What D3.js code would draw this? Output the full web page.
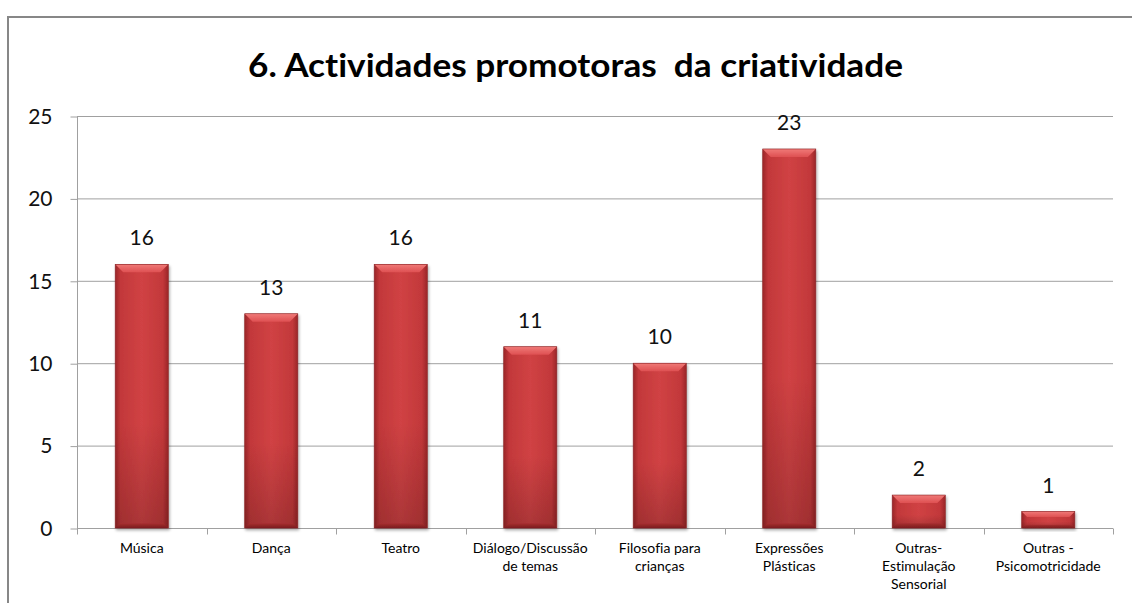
<!DOCTYPE html>
<html><head><meta charset="utf-8">
<script src="https://cdn.jsdelivr.net/npm/d3@7"></script>
<style>body{margin:0;background:#fff}svg{display:block}text,tspan{font-variant-ligatures:none;font-feature-settings:"liga" 0,"clig" 0,"dlig" 0,"calt" 0}</style>
</head><body>
<svg id="c" width="1132" height="603"></svg>
<script>
const categories = [["Música"],["Dança"],["Teatro"],["Diálogo/Discussão","de temas"],["Filosofia para","crianças"],["Expressões","Plásticas"],["Outras-","Estimulação","Sensorial"],["Outras -","Psicomotricidade"]];
const values = [16,13,16,11,10,23,2,1];
const yTicks = [0,5,10,15,20,25];
const title = "6. Actividades promotoras  da criatividade";

const svg = d3.select("#c");
const font = "Lato, 'Open Sans', sans-serif";
const L=77, R=1113, T=116, B=528;
const x = d3.scaleBand().domain(d3.range(values.length)).range([L,R]).paddingInner(0.59).paddingOuter(0.295);
const y = d3.scaleLinear().domain([0,25]).range([B,T]);

// border
svg.append("rect").attr("x",8).attr("y",17).attr("width",1200).attr("height",700)
  .attr("fill","none").attr("stroke","#878787").attr("stroke-width",2);

// title
svg.append("text").attr("x",575.5).attr("y",77).attr("text-anchor","middle")
  .attr("font-family",font).attr("font-weight","bold").attr("font-size",32)
  .attr("fill","#000").attr("textLength",655).attr("lengthAdjust","spacingAndGlyphs")
  .style("white-space","pre").style("font-variant-ligatures","none").text(title);

const defs = svg.append("defs");
const hg = defs.append("linearGradient").attr("id","hg").attr("x1","0").attr("x2","1").attr("y1","0").attr("y2","0");
[[0,"#9a2628"],[0.1,"#c2383a"],[0.5,"#d04244"],[0.9,"#c2383a"],[1,"#9a2628"]].forEach(s=>hg.append("stop").attr("offset",s[0]).attr("stop-color",s[1]));
const vg = defs.append("linearGradient").attr("id","vg").attr("x1","0").attr("x2","0").attr("y1","0").attr("y2","1");
[[0,"#000",0],[0.6,"#000",0],[1,"#000",0.18]].forEach(s=>vg.append("stop").attr("offset",s[0]).attr("stop-color",s[1]).attr("stop-opacity",s[2]));
const tg = defs.append("linearGradient").attr("id","tg").attr("x1","0").attr("x2","0").attr("y1","0").attr("y2","1");
[[0,"#f07a78"],[1,"#de5052"]].forEach(s=>tg.append("stop").attr("offset",s[0]).attr("stop-color",s[1]));
const bg = defs.append("linearGradient").attr("id","bg").attr("x1","0").attr("x2","0").attr("y1","0").attr("y2","1");
[[0,"#a82e30"],[1,"#7a1d1f"]].forEach(s=>bg.append("stop").attr("offset",s[0]).attr("stop-color",s[1]));
const sh = defs.append("filter").attr("id","sh").attr("x","-20%").attr("y","-20%").attr("width","140%").attr("height","140%");
sh.append("feGaussianBlur").attr("in","SourceAlpha").attr("stdDeviation",1.5);
sh.append("feOffset").attr("dx",1).attr("dy",1.5).attr("result","o");
sh.append("feComponentTransfer").append("feFuncA").attr("type","linear").attr("slope",0.35);
const m = sh.append("feMerge"); m.append("feMergeNode"); m.append("feMergeNode").attr("in","SourceGraphic");

// gridlines
const gridY = yTicks.filter(t=>t>0);
svg.append("g").selectAll("line").data(gridY).join("line")
  .attr("x1",L).attr("x2",R).attr("y1",d=>y(d)+0.5).attr("y2",d=>y(d)+0.5)
  .attr("stroke","#a0a0a0").attr("stroke-width",1);

// y axis
const ya = svg.append("g").attr("transform",`translate(${L+0.5},0.5)`)
  .call(d3.axisLeft(y).tickValues(yTicks).tickSize(7).tickPadding(18));
ya.select(".domain").attr("stroke","#a0a0a0").attr("d",`M0,${T}V${B}`);
ya.selectAll(".tick line").attr("stroke","#a0a0a0");
ya.selectAll(".tick text").attr("font-family",font).attr("font-size",21).attr("fill","#111");

// x axis
const xa = svg.append("g").attr("transform",`translate(0,${B+0.5})`);
xa.append("line").attr("x1",L).attr("x2",R).attr("stroke","#a0a0a0");
const step = x.step();
xa.selectAll(".tk").data(d3.range(values.length+1)).join("line")
  .attr("x1",i=>Math.round(L+i*step)+0.5).attr("x2",i=>Math.round(L+i*step)+0.5)
  .attr("y1",0).attr("y2",6).attr("stroke","#a0a0a0");

// bars
const bars = svg.append("g").selectAll("g").data(values).join("g").attr("filter","url(#sh)");
bars.each(function(v,i){
  const g = d3.select(this);
  const x0 = x(i), w = x.bandwidth(), y0 = y(v), h = B - y0;
  const bev = Math.min(8, h/3);
  g.append("rect").attr("x",x0).attr("y",y0).attr("width",w).attr("height",h).attr("fill","url(#hg)");
  g.append("rect").attr("x",x0).attr("y",y0).attr("width",w).attr("height",h).attr("fill","url(#vg)");
  g.append("polygon").attr("points",[[x0,y0],[x0+w,y0],[x0+w-bev,y0+bev],[x0+bev,y0+bev]].join(" ")).attr("fill","url(#tg)");
  g.append("polygon").attr("points",[[x0,B],[x0+w,B],[x0+w-bev*0.6,B-bev*0.6],[x0+bev*0.6,B-bev*0.6]].join(" ")).attr("fill","url(#bg)");
  g.append("rect").attr("x",x0).attr("y",y0).attr("width",w).attr("height",h).attr("fill","none").attr("stroke","#8a2426").attr("stroke-width",0.6);
});

// data labels
svg.append("g").selectAll("text").data(values).join("text")
  .attr("x",(d,i)=>x(i)+x.bandwidth()/2).attr("y",d=>y(d)-19)
  .attr("text-anchor","middle").attr("font-family",font).attr("font-size",21).attr("fill","#111")
  .text(d=>d);

// category labels
svg.append("g").selectAll("text").data(categories).join("text")
  .attr("x",(d,i)=>x(i)+x.bandwidth()/2).attr("y",553)
  .attr("text-anchor","middle").attr("font-family",font).attr("font-size",14).attr("fill","#000")
  .each(function(lines){
    const t = d3.select(this);
    lines.forEach((ln,k)=>t.append("tspan").attr("x",t.attr("x")).attr("dy",k?18:0).text(ln));
  });
</script>
</body></html>
